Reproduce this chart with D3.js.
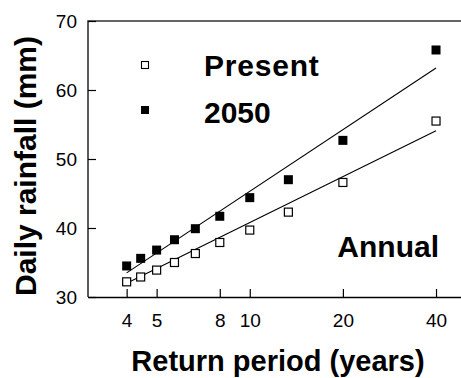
<!DOCTYPE html>
<html>
<head>
<meta charset="utf-8">
<script src="https://cdn.jsdelivr.net/npm/d3@7"></script>
<style>
  html, body { margin: 0; padding: 0; background: #fff; }
  svg { display: block; }
  text { font-family: "Liberation Sans", Arial, Helvetica, sans-serif; fill: #000; }
</style>
</head>
<body>
<svg id="chart" width="461" height="378"></svg>
<script>
// Return periods (years) for ranked annual maxima
const returnPeriods = [4, 4.44, 5, 5.71, 6.67, 8, 10, 13.33, 20, 40];
// Daily rainfall (mm)
const presentValues = [32.2, 32.9, 33.9, 35.0, 36.3, 37.9, 39.7, 42.3, 46.6, 55.5];
const future2050Values = [34.5, 35.6, 36.8, 38.3, 39.9, 41.7, 44.4, 47.0, 52.7, 65.8];
// Fitted lines: values at the first and last return period
const fitPeriods = [4, 40];
const presentFit = [32.0, 54.1];
const future2050Fit = [33.5, 63.2];
// Axis ticks
const xTicks = [4, 5, 8, 10, 20, 40];
const yTicks = [30, 40, 50, 60, 70];

const svg = d3.select("#chart");
const plotLeft = 88, plotRight = 466, plotTop = 21, plotBottom = 297;

const x = d3.scaleLog().domain([3, 50]).range([plotLeft, plotRight]);
const y = d3.scaleLinear().domain([30, 70]).range([plotBottom, plotTop]);

// Frame: top and left edges
svg.append("path")
  .attr("d", `M${plotLeft},${plotBottom}V${plotTop}H${plotRight}`)
  .attr("fill", "none").attr("stroke", "#333").attr("stroke-width", 1.6);

// Bottom axis with inward ticks
const xAxis = svg.append("g").attr("transform", `translate(0,${plotBottom})`)
  .call(d3.axisBottom(x).tickValues(xTicks).tickSize(-8).tickSizeOuter(0).tickPadding(0).tickFormat(""));
xAxis.select(".domain").attr("stroke", "#000").attr("stroke-width", 1.6);
xAxis.selectAll(".tick line").attr("stroke", "#000").attr("stroke-width", 1.2);
xAxis.selectAll(".tick").append("text")
  .attr("y", 30).attr("text-anchor", "middle")
  .style("font-size", "19px")
  .text(d => d);

// Left axis with inward ticks
const yAxis = svg.append("g").attr("transform", `translate(${plotLeft},0)`)
  .call(d3.axisLeft(y).tickValues(yTicks).tickSize(-8).tickSizeOuter(0).tickFormat(""));
yAxis.select(".domain").remove();
yAxis.selectAll(".tick line").attr("stroke", "#000").attr("stroke-width", 1.2);
yAxis.selectAll(".tick").append("text")
  .attr("x", -11).attr("dy", "0.35em").attr("text-anchor", "end")
  .style("font-size", "19px")
  .text(d => d);

// Fitted lines
const line = d3.line().x(d => x(d[0])).y(d => y(d[1]));
[presentFit, future2050Fit].forEach(fit => {
  svg.append("path")
    .datum(fitPeriods.map((t, i) => [t, fit[i]]))
    .attr("d", line)
    .attr("fill", "none").attr("stroke", "#000").attr("stroke-width", 1.1);
});

// Points
const s = 9;
svg.append("g").selectAll("rect")
  .data(returnPeriods.map((t, i) => [t, future2050Values[i]]))
  .join("rect")
  .attr("x", d => x(d[0]) - s / 2).attr("y", d => y(d[1]) - s / 2)
  .attr("width", s).attr("height", s)
  .attr("fill", "#000");

const so = 8;
svg.append("g").selectAll("rect")
  .data(returnPeriods.map((t, i) => [t, presentValues[i]]))
  .join("rect")
  .attr("x", d => x(d[0]) - so / 2).attr("y", d => y(d[1]) - so / 2)
  .attr("width", so).attr("height", so)
  .attr("fill", "#fff").attr("stroke", "#000").attr("stroke-width", 1.2);

// Legend
svg.append("rect").attr("x", 141.5).attr("y", 61.5).attr("width", 7).attr("height", 7)
  .attr("fill", "#fff").attr("stroke", "#000").attr("stroke-width", 1.1);
svg.append("rect").attr("x", 141).attr("y", 106).attr("width", 8).attr("height", 8)
  .attr("fill", "#000");
svg.append("text").attr("x", 204).attr("y", 76)
  .style("font-size", "30px").style("font-weight", "bold").style("letter-spacing", "0.8px")
  .text("Present");
svg.append("text").attr("x", 204).attr("y", 123)
  .style("font-size", "30px").style("font-weight", "bold")
  .text("2050");

// Panel label
svg.append("text").attr("x", 439).attr("y", 257).attr("text-anchor", "end")
  .style("font-size", "30px").style("font-weight", "bold")
  .text("Annual");

// Axis titles
svg.append("text").attr("x", 278).attr("y", 371).attr("text-anchor", "middle")
  .style("font-size", "29px").style("font-weight", "bold")
  .text("Return period (years)");
svg.append("text")
  .attr("transform", "translate(36,166) rotate(-90)")
  .attr("text-anchor", "middle")
  .style("font-size", "30px").style("font-weight", "bold")
  .text("Daily rainfall (mm)");
</script>
</body>
</html>
